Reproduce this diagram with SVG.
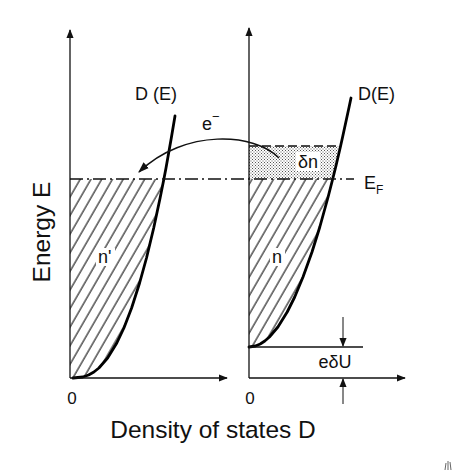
<svg xmlns="http://www.w3.org/2000/svg" width="455" height="476" viewBox="0 0 455 476">
<defs>
<style>
.ax{stroke:#111;stroke-width:1.3;fill:none}
.cv{stroke:#000;stroke-width:2.8;fill:none;stroke-linejoin:round;stroke-linecap:round}
.t{font-family:"Liberation Sans",Arial,sans-serif;fill:#111}
.lb{font-size:18px}
.big{font-size:24.5px}
.bg{fill:#fff}
</style>
<marker id="ah" viewBox="0 0 10 10" refX="9" refY="5" markerWidth="9" markerHeight="9" markerUnits="userSpaceOnUse" orient="auto">
<path d="M0,1 L10,5 L0,9 Z" fill="#111"/>
</marker>
<marker id="ah2" viewBox="0 0 10 10" refX="9" refY="5" markerWidth="11" markerHeight="11" markerUnits="userSpaceOnUse" orient="auto">
<path d="M0,1.5 L10,5 L0,8.5 Z" fill="#111"/>
</marker>
<pattern id="hatch" patternUnits="userSpaceOnUse" width="9.3" height="20" patternTransform="rotate(30)">
<line x1="1" y1="0" x2="1" y2="20" stroke="#111" stroke-width="1.1"/>
</pattern>
<pattern id="dots" patternUnits="userSpaceOnUse" width="3" height="3">
<rect x="0" y="0" width="1" height="1" fill="#555"/>
<rect x="1.5" y="1.5" width="1" height="1" fill="#555"/>
</pattern>
</defs>
<rect width="455" height="476" fill="#fff"/>

<g id="left-panel">
<path fill="url(#hatch)" d="M70,179 L163.9,179 L160.1,198 L153.7,228 L146.5,258 L139.6,283 L131.6,308 L123.9,328 L116.8,343 L107.6,358 L98.9,368 L93.9,372 L88.6,375 L82.8,377 L73,378 L70,378 Z"/>
<path class="cv" d="M73,378 L82.8,377 L88.6,375 L93.9,372 L98.9,368 L107.6,358 L116.8,343 L123.9,328 L131.6,308 L139.6,283 L146.5,258 L153.7,228 L160.1,198 L163.9,179 L166,168 L171.3,138 L175,116"/>
<rect class="bg" x="96" y="248" width="19" height="18"/>
<text class="t lb" x="98" y="263">n'</text>
<text class="t lb" x="135" y="100">D (E)</text>
<text class="t" font-size="17" x="72" y="404" text-anchor="middle">0</text>
</g>

<g id="right-panel">
<path fill="url(#dots)" d="M249,146 L340.6,146 L335.7,167 L332.7,179 L249,179 Z"/>
<path fill="url(#hatch)" d="M249,179 L332.7,179 L328.1,197 L319.8,227 L312,252 L303,277 L294.7,297 L287.2,312 L277.9,327 L269.4,337 L264.8,341 L260.2,344 L255.5,346 L249,347 Z"/>
<line x1="249" y1="146" x2="341" y2="146" stroke="#111" stroke-width="1.4" stroke-dasharray="9 4"/>
<path class="cv" d="M249,347 L255.5,346 L260.2,344 L264.8,341 L269.4,337 L277.9,327 L287.2,312 L294.7,297 L303,277 L312,252 L319.8,227 L328.1,197 L332.7,179 L335.7,167 L340.6,146 L342.6,137 L349.1,107 L351,98"/>
<line x1="249" y1="347" x2="363" y2="347" stroke="#111" stroke-width="1.6"/>
<rect class="bg" x="270" y="248" width="15" height="18"/>
<text class="t lb" x="272" y="263">n</text>
<rect class="bg" x="296" y="152" width="24" height="19"/>
<text class="t lb" x="298" y="168">δn</text>
<text class="t lb" x="358" y="100">D(E)</text>
<text class="t lb" x="335" y="368" text-anchor="middle">eδU</text>
<text class="t" font-size="17" x="250" y="404" text-anchor="middle">0</text>
</g>

<g id="axes">
<line class="ax" x1="70" y1="378" x2="70" y2="30" marker-end="url(#ah)"/>
<line class="ax" x1="70" y1="378" x2="227" y2="378" marker-end="url(#ah)"/>
<line class="ax" x1="249" y1="378" x2="249" y2="28" marker-end="url(#ah)"/>
<line class="ax" x1="249" y1="378" x2="405" y2="378" marker-end="url(#ah)"/>
</g>

<g id="fermi-level">
<line x1="70" y1="179" x2="354" y2="179" stroke="#111" stroke-width="1.3" stroke-dasharray="13 4 2 4"/>
<text class="t lb" x="364" y="189">E<tspan font-size="12" dy="5">F</tspan></text>
</g>

<g id="connectors">
<path d="M279,158 C255,133 185,128 139,172" fill="none" stroke="#111" stroke-width="1.5" marker-end="url(#ah2)"/>
<line x1="343" y1="317" x2="343" y2="346" stroke="#111" stroke-width="1" marker-end="url(#ah)"/>
<line x1="343" y1="404" x2="343" y2="379" stroke="#111" stroke-width="1" marker-end="url(#ah)"/>
</g>

<g id="labels">
<text class="t lb" x="202" y="130">e<tspan dy="-9" font-size="13">−</tspan></text>
<text class="t big" transform="translate(50,232) rotate(-90)" text-anchor="middle">Energy E</text>
<text class="t big" x="213" y="438" text-anchor="middle">Density of states D</text>
</g>

<g id="artifact" stroke="#666" stroke-width="1">
<line x1="446" y1="463" x2="445" y2="470"/>
<line x1="448" y1="461" x2="448" y2="470"/>
<line x1="450" y1="462" x2="451" y2="470"/>
</g>
</svg>
